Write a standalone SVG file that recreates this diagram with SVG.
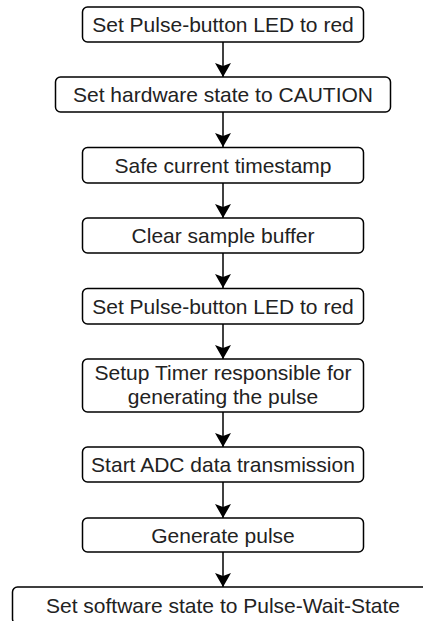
<svg xmlns="http://www.w3.org/2000/svg" width="423" height="621" viewBox="0 0 423 621">
  <style>
    .box { fill: #ffffff; stroke: #000000; stroke-width: 1.5; }
    .lbl { font-family: "Liberation Sans", Arial, sans-serif; font-size: 21px; fill: #222222; text-anchor: middle; }
    .edge { stroke: #000000; stroke-width: 1.5; fill: none; marker-end: url(#arrow); }
  </style>
  <defs>
    <marker id="arrow" viewBox="0 0 14 16" refX="14" refY="8" markerWidth="14" markerHeight="16" markerUnits="userSpaceOnUse" orient="auto">
      <path d="M0,0 L14,8 L0,16 L3,8 Z" fill="#000000"/>
    </marker>
  </defs>
  <rect width="423" height="621" fill="#ffffff"/>

  <g id="connectors">
    <path class="edge" d="M223,42 L223,77"/>
    <path class="edge" d="M223,112 L223,147"/>
    <path class="edge" d="M223,183 L223,218"/>
    <path class="edge" d="M223,253 L223,288"/>
    <path class="edge" d="M223,324 L223,359"/>
    <path class="edge" d="M223,412 L223,447"/>
    <path class="edge" d="M223,482 L223,518"/>
    <path class="edge" d="M223,552 L223,587"/>
  </g>

  <g id="n1">
    <rect class="box" x="82.5" y="7" width="281" height="35" rx="5"/>
    <text class="lbl" x="223" y="32">Set Pulse-button LED to red</text>
  </g>
  <g id="n2">
    <rect class="box" x="55.5" y="77" width="335" height="35" rx="5"/>
    <text class="lbl" x="223" y="102">Set hardware state to CAUTION</text>
  </g>
  <g id="n3">
    <rect class="box" x="82.5" y="147.5" width="281" height="35.5" rx="5"/>
    <text class="lbl" x="223" y="172.5">Safe current timestamp</text>
  </g>
  <g id="n4">
    <rect class="box" x="82.5" y="218" width="281" height="35" rx="5"/>
    <text class="lbl" x="223" y="243">Clear sample buffer</text>
  </g>
  <g id="n5">
    <rect class="box" x="82.5" y="288.5" width="281" height="35.5" rx="5"/>
    <text class="lbl" x="223" y="313.5">Set Pulse-button LED to red</text>
  </g>
  <g id="n6">
    <rect class="box" x="82.5" y="359" width="281" height="53" rx="5"/>
    <text class="lbl" x="223" y="379.5">Setup Timer responsible for</text>
    <text class="lbl" x="223" y="404">generating the pulse</text>
  </g>
  <g id="n7">
    <rect class="box" x="82.5" y="447" width="281" height="35" rx="5"/>
    <text class="lbl" x="223" y="472">Start ADC data transmission</text>
  </g>
  <g id="n8">
    <rect class="box" x="82.5" y="518" width="281" height="34" rx="5"/>
    <text class="lbl" x="223" y="542.5">Generate pulse</text>
  </g>
  <g id="n9">
    <rect class="box" x="12.5" y="587" width="422" height="37" rx="5"/>
    <text class="lbl" x="223" y="613">Set software state to Pulse-Wait-State</text>
  </g>
</svg>
